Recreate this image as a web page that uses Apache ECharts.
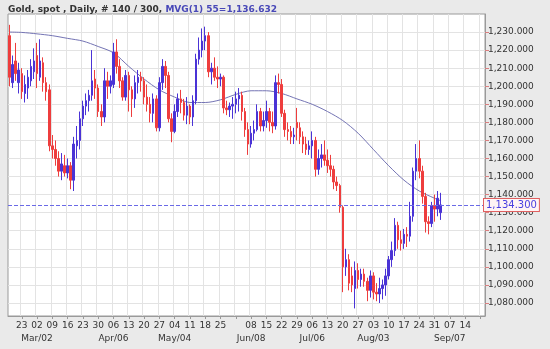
<!DOCTYPE html>
<html><head><meta charset="utf-8">
<script src="https://cdn.jsdelivr.net/npm/echarts@6/dist/echarts.min.js"></script>
<style>html,body{margin:0;padding:0;background:#eaeaea}#c{width:550px;height:349px}</style>
</head><body><div id="c"></div>
<script>
// ---- categories: weekdays from 2015-02-17 ----
const startDate = '2015-02-17';
const categoryCount = 156;
const categories = [];
(function () {
  const d = new Date(startDate + 'T00:00:00Z');
  while (categories.length < categoryCount) {
    const w = d.getUTCDay();
    if (w !== 0 && w !== 6) categories.push(d.toISOString().slice(0, 10));
    d.setUTCDate(d.getUTCDate() + 1);
  }
})();

// ---- OHLC, one row per week ----
const opens = [
  1228,1202,1214,1202,
  1207,1196,1199,1203,1208,
  1217,1205,1213,1202,1198,
  1167,1165,1160,1153,1156,
  1152,1156,1148,1167,1170,
  1182,1189,1192,1195,1204,
  1199,1186,1183,1203,1200,
  1201,1219,1211,1203,1194,
  1206,1198,1193,1202,1205,
  1203,1194,1190,1185,1193,
  1177,1202,1211,1206,1182,
  1175,1186,1193,1191,1184,
  1189,1183,1192,1215,1220,
  1225,1228,1208,1210,1205,
  1204,1205,1188,1187,1189,
  1190,1193,1195,1186,1176,
  1168,1174,1176,1186,1178,
  1181,1186,1180,1178,1202,
  1201,1185,1176,1175,1172,
  1180,1177,1172,1168,1165,
  1167,1170,1154,1160,1162,
  1159,1156,1154,1147,1145,
  1133,1100,1104,1095,1088,
  1098,1093,1096,1092,1087,
  1095,1086,1085,1088,1090,
  1095,1104,1109,1123,1115,
  1113,1118,1117,1128,1153,
  1160,1153,1139,1125,1124,
  1134,1132,1130
];
const highs = [
  1234,1217,1224,1213,
  1210,1206,1209,1215,1221,
  1224,1226,1216,1205,1201,
  1173,1170,1164,1163,1162,
  1160,1158,1172,1178,1186,
  1192,1196,1198,1220,1209,
  1201,1190,1210,1208,1206,
  1224,1226,1215,1205,1209,
  1208,1200,1206,1209,1208,
  1205,1201,1194,1196,1195,
  1205,1215,1214,1208,1185,
  1190,1196,1198,1193,1194,
  1190,1195,1218,1227,1232,
  1233,1230,1213,1216,1211,
  1207,1206,1192,1191,1194,
  1197,1199,1197,1188,1180,
  1178,1181,1190,1188,1186,
  1192,1188,1186,1206,1207,
  1204,1187,1180,1178,1177,
  1188,1180,1175,1172,1170,
  1175,1172,1165,1168,1170,
  1165,1162,1156,1150,1146,
  1134,1110,1107,1100,1103,
  1102,1099,1099,1094,1098,
  1097,1091,1094,1093,1099,
  1106,1114,1127,1125,1120,
  1121,1122,1136,1155,1168,
  1170,1156,1141,1128,1136,
  1140,1142,1141
];
const lows = [
  1200,1199,1203,1196,
  1193,1191,1193,1200,1204,
  1199,1203,1197,1192,1164,
  1160,1156,1150,1148,1150,
  1149,1143,1142,1160,1165,
  1178,1184,1186,1192,1193,
  1183,1178,1180,1193,1196,
  1199,1207,1199,1192,1192,
  1186,1183,1188,1196,1197,
  1190,1186,1180,1180,1175,
  1175,1198,1199,1180,1169,
  1174,1183,1185,1181,1179,
  1179,1178,1190,1212,1216,
  1220,1205,1201,1203,1199,
  1200,1185,1184,1183,1182,
  1185,1186,1181,1172,1162,
  1166,1170,1175,1175,1175,
  1177,1175,1174,1176,1196,
  1183,1172,1170,1168,1168,
  1170,1168,1163,1162,1162,
  1160,1150,1151,1155,1156,
  1152,1150,1143,1142,1130,
  1086,1095,1087,1086,1077,
  1088,1089,1089,1081,1083,
  1082,1081,1080,1082,1084,
  1093,1100,1106,1110,1109,
  1110,1111,1114,1125,1148,
  1149,1135,1119,1118,1122,
  1125,1128,1126
];
const closes = [
  1205,1212,1207,1209,
  1197,1201,1205,1211,1214,
  1207,1214,1202,1197,1167,
  1165,1160,1153,1157,1152,
  1156,1148,1168,1170,1182,
  1189,1192,1195,1203,1199,
  1186,1183,1203,1200,1203,
  1219,1211,1203,1194,1206,
  1198,1193,1202,1205,1203,
  1194,1190,1185,1193,1177,
  1202,1211,1206,1182,1175,
  1186,1193,1191,1184,1189,
  1183,1192,1215,1220,1225,
  1228,1208,1210,1205,1204,
  1205,1188,1187,1189,1190,
  1193,1195,1186,1176,1168,
  1174,1176,1186,1178,1181,
  1186,1180,1178,1202,1201,
  1185,1176,1175,1172,1173,
  1177,1172,1168,1165,1167,
  1170,1154,1160,1162,1159,
  1156,1154,1147,1145,1133,
  1100,1104,1091,1090,1098,
  1093,1096,1092,1087,1095,
  1086,1085,1088,1090,1095,
  1104,1109,1123,1115,1113,
  1118,1117,1128,1153,1160,
  1153,1139,1125,1124,1134,
  1132,1138,1134.3
];

// ---- MVG(1) 55 moving average ----
const maDates = ['2015-02-17','2015-02-23','2015-03-02','2015-03-09','2015-03-16','2015-03-23','2015-03-30',
  '2015-04-06','2015-04-13','2015-04-20','2015-04-27','2015-05-04','2015-05-11','2015-05-18','2015-05-25',
  '2015-06-01','2015-06-08','2015-06-15','2015-06-22','2015-06-29','2015-07-06','2015-07-13','2015-07-20',
  '2015-07-27','2015-08-03','2015-08-10','2015-08-17','2015-08-24','2015-08-31','2015-09-02'];
const maValues = [1230,1229.8,1229,1228,1226.5,1225,1222,
  1218.5,1211,1204,1198,1194,1191,1191,1192.5,
  1195.5,1197.5,1197.5,1196,1193,1190,1186,1181,
  1174,1165,1156,1148,1142,1138,1136.632];

// ---- tick labels ----
const yTicks = [1080,1090,1100,1110,1120,1130,1140,1150,1160,1170,1180,1190,1200,1210,1220,1230];
const monthLabelDates = ['2015-03-02','2015-04-06','2015-05-04','2015-06-08','2015-07-06','2015-08-03','2015-09-07'];
const monthLabelTexts = ['Mar/02','Apr/06','May/04','Jun/08','Jul/06','Aug/03','Sep/07'];
const hiddenLabelDates = ['2015-06-01'];
const lastLabelDate = '2015-09-14';
const lastPrice = 1134.3;
const titleMain = 'Gold, spot , Daily, # 140 / 300, ';
const titleMa = 'MVG(1) 55=1,136.632';

const FONT = 'DejaVu Sans';
const isMonday = v => new Date(v + 'T00:00:00Z').getUTCDay() === 1;
const showLabel = v => isMonday(v) && !hiddenLabelDates.includes(v) && v <= lastLabelDate;
const fmt = v => Number(v).toLocaleString('en-US', {minimumFractionDigits: 3, maximumFractionDigits: 3});

const ohlc = opens.map((o, i) => [o, closes[i], lows[i], highs[i]]);
const maData = maDates.map((d, i) => [d, maValues[i]]);

const chart = echarts.init(document.getElementById('c'), null, {renderer: 'canvas'});
chart.setOption({
  animation: false,
  backgroundColor: '#eaeaea',
  title: {
    text: '{a|' + titleMain + '}{b|' + titleMa + '}',
    left: 3, top: 0,
    textStyle: {
      rich: {
        a: {fontFamily: FONT, fontSize: 9, color: '#333'},
        b: {fontFamily: FONT, fontSize: 9, color: '#4848b8'}
      }
    }
  },
  grid: {left: 8, right: 65, top: 14, bottom: 33, show: true, backgroundColor: '#ffffff', borderColor: '#9a9a9a', borderWidth: 1},
  xAxis: [{
    type: 'category', data: categories, boundaryGap: true,
    axisLine: {show: true, lineStyle: {color: '#9a9a9a'}},
    axisTick: {show: true, alignWithLabel: true, length: 3, interval: (i, v) => isMonday(v), lineStyle: {color: '#999'}},
    axisLabel: {
      interval: (i, v) => showLabel(v),
      hideOverlap: false,
      formatter: v => v.slice(8, 10),
      fontFamily: FONT, fontSize: 9, color: '#333', margin: 5
    },
    splitLine: {show: true, interval: (i, v) => isMonday(v), lineStyle: {color: '#e3e3e3'}}
  }, {
    type: 'category', data: categories, boundaryGap: true, position: 'bottom',
    axisLine: {show: false}, axisTick: {show: false}, splitLine: {show: false},
    axisLabel: {
      interval: (i, v) => monthLabelDates.includes(v),
      showMinLabel: true, showMaxLabel: true, hideOverlap: false,
      formatter: v => monthLabelTexts[monthLabelDates.indexOf(v)] || '',
      fontFamily: FONT, fontSize: 9, color: '#333', margin: 18
    }
  }],
  yAxis: {
    type: 'value', position: 'right', min: 1072.8, max: 1240, scale: true,
    axisLine: {show: true, lineStyle: {color: '#9a9a9a'}},
    axisTick: {show: true, length: 4, customValues: yTicks, lineStyle: {color: '#d98080'}},
    axisLabel: {customValues: yTicks, formatter: v => fmt(v), fontFamily: FONT, fontSize: 9, color: '#333', margin: 3},
    splitLine: {show: true, lineStyle: {color: '#e3e3e3'}}
  },
  series: [
    {
      type: 'candlestick', data: ohlc, barWidth: 2, xAxisIndex: 0,
      itemStyle: {color: '#4a33d6', color0: '#ee3d3d', borderColor: '#4a33d6', borderColor0: '#ee3d3d', borderWidth: 1},
      markLine: {
        silent: true, symbol: 'none',
        data: [{yAxis: lastPrice}],
        lineStyle: {type: 'dashed', color: '#6a6ae6', width: 1},
        label: {position: 'end', formatter: () => fmt(lastPrice), fontFamily: FONT, fontSize: 10, color: '#4a40e0',
          backgroundColor: '#fff4f4', borderColor: '#e06060', borderWidth: 1, padding: [1, 2], distance: -1}
      }
    },
    {
      type: 'line', data: maData, xAxisIndex: 0, showSymbol: false, smooth: 0.3, connectNulls: true,
      lineStyle: {color: '#7474b4', width: 1}, z: 1
    }
  ]
});
</script>
</body></html>
